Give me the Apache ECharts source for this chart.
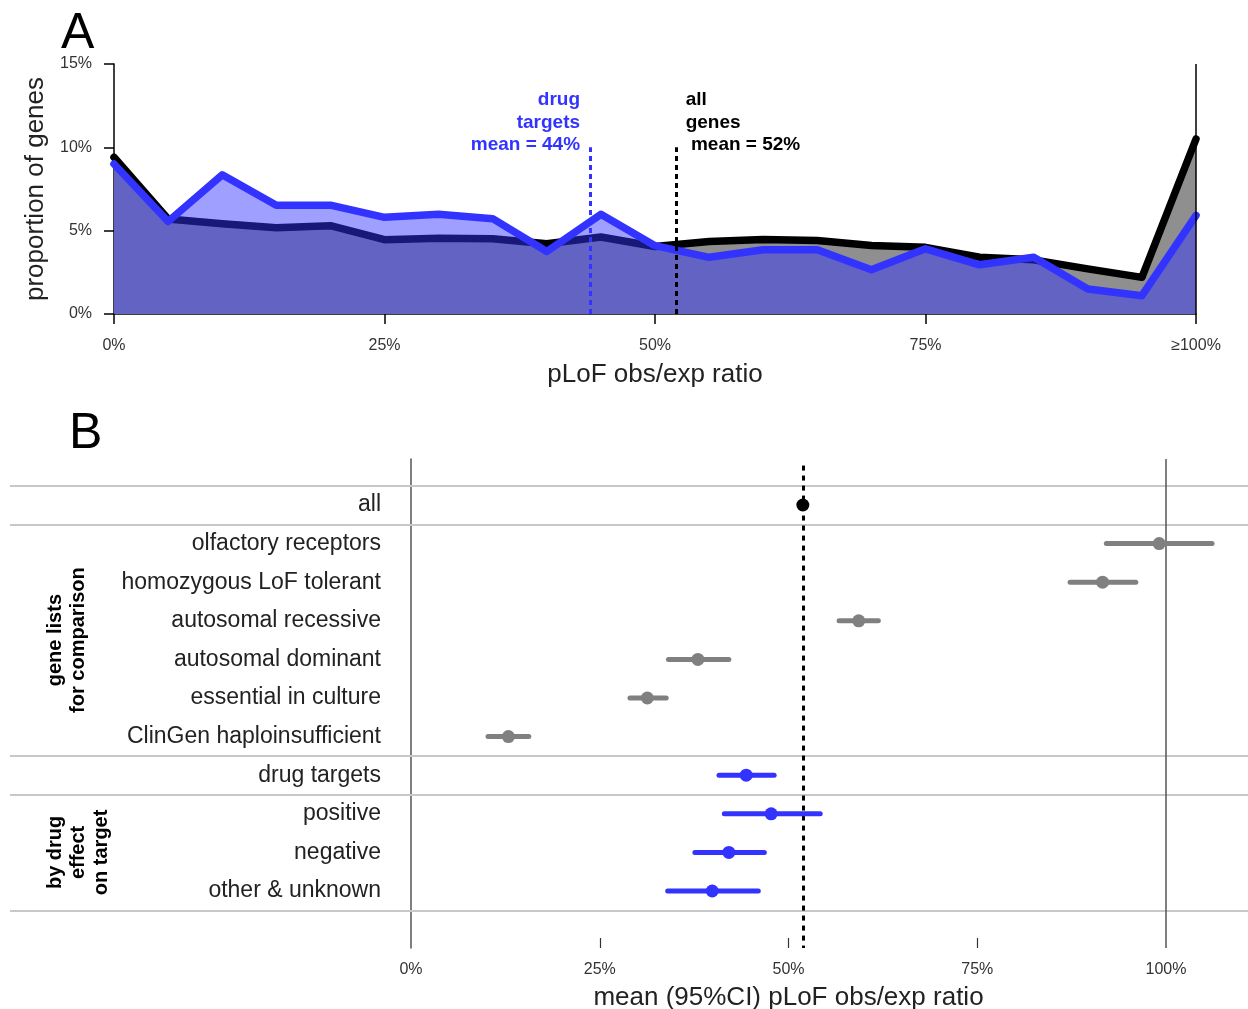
<!DOCTYPE html>
<html>
<head>
<meta charset="utf-8">
<script src="https://cdn.jsdelivr.net/npm/echarts@6/dist/echarts.min.js"></script>
<style>
html,body{margin:0;padding:0;background:#fff;}
#main{width:1248px;height:1009px;}
</style>
</head>
<body>
<div id="main"></div>
<script>
// ---------- Panel A data ----------
var ratioBins = [0,5,10,15,20,25,30,35,40,45,50,55,60,65,70,75,80,85,90,95,100];
var allGenesPct = [9.4,5.7,5.42,5.18,5.3,4.46,4.55,4.52,4.22,4.62,4.05,4.35,4.47,4.41,4.11,4.0,3.41,3.25,2.71,2.2,10.5];
var drugTargetsPct = [9.0,5.55,8.35,6.53,6.53,5.8,5.98,5.72,3.75,5.98,4.1,3.4,3.85,3.85,2.65,3.91,2.95,3.41,1.5,1.1,5.92];
var allGenesMean = 52;
var drugTargetsMean = 44;
var xTicksA = [0,25,50,75,100];
var yTicksA = [0,5,10,15];

// ---------- Panel B data ----------
var geneLists = ['all','olfactory receptors','homozygous LoF tolerant','autosomal recessive','autosomal dominant','essential in culture','ClinGen haploinsufficient','drug targets','positive','negative','other & unknown'];
var listGroups = ['all','comparison','comparison','comparison','comparison','comparison','comparison','drug','effect','effect','effect'];
var meanRatio = [51.9,99.1,91.6,59.3,38.0,31.3,12.9,44.4,47.7,42.1,39.9];
var ciLower = [51.6,92.1,87.3,56.7,34.1,29.0,10.2,40.8,41.5,37.6,34.0];
var ciUpper = [52.2,106.1,96.0,61.9,42.1,33.8,15.6,48.1,54.2,46.8,46.0];
var xTicksB = [0,25,50,75,100];

// ---------- styling ----------
var FONT = '"Liberation Sans", Arial, Helvetica, sans-serif';
var groupColor = {all:'#000000', comparison:'#808080', drug:'#3333ff', effect:'#3333ff'};
var rowColors = listGroups.map(function(g){return groupColor[g];});

// Panel B layout: 0% and 100% at fixed pixels; grid spans whole width for separators
var B_ZERO = 411, B_HUNDRED = 1166, B_LEFT = 10, B_RIGHT = 1248;
var pxPerUnit = (B_HUNDRED - B_ZERO) / 100;
var bMin = -(B_ZERO - B_LEFT) / pxPerUnit;
var bMax = (B_RIGHT - B_ZERO) / pxPerUnit;
var B_TOP = 459, B_BOTTOM = 948, ROW0 = 505, ROWSTEP = 38.6;
var yMinB = -(ROW0 - B_TOP) / ROWSTEP;
var yMaxB = (B_BOTTOM - ROW0) / ROWSTEP;

// separators at group boundaries
var separators = [-0.5];
for (var i = 1; i < listGroups.length; i++) {
  if (listGroups[i] !== listGroups[i-1]) separators.push(i - 0.5);
}
separators.push(listGroups.length - 0.5);

var forestData = geneLists.map(function(c, i){ return [meanRatio[i], ciLower[i], ciUpper[i], i]; });

var chart = echarts.init(document.getElementById('main'), null, {renderer:'canvas'});

var option = {
  animation: false,
  backgroundColor: '#ffffff',
  textStyle: {fontFamily: FONT},
  title: [
    {text:'A', left:61, top:9, padding:0, textStyle:{fontSize:50, fontWeight:'normal', color:'#000', fontFamily:FONT}},
    {text:'B', left:69, top:409, padding:0, textStyle:{fontSize:50, fontWeight:'normal', color:'#000', fontFamily:FONT}}
  ],
  grid: [
    {left:114, top:64, width:1082, height:250, outerBoundsMode:'none', containLabel:false},
    {left:B_LEFT, top:B_TOP, width:B_RIGHT-B_LEFT, height:B_BOTTOM-B_TOP, outerBoundsMode:'none', containLabel:false}
  ],
  xAxis: [
    {
      gridIndex:0, type:'value', min:0, max:100, interval:25,
      axisLine:{show:true, onZero:false, lineStyle:{color:'#000', width:1.5}},
      axisTick:{show:true, length:10, lineStyle:{color:'#000', width:1.5}},
      axisLabel:{margin:24, fontSize:16, color:'#333', fontFamily:FONT,
        formatter:function(v){ return v === 100 ? '\u2265100%' : v + '%'; }},
      splitLine:{show:false},
      name:'pLoF obs/exp ratio', nameLocation:'middle', nameGap:48,
      nameTextStyle:{fontSize:26, color:'#222', fontFamily:FONT}
    },
    {
      gridIndex:1, type:'value', min:bMin, max:bMax,
      axisLine:{show:false, onZero:false},
      axisTick:{show:true, inside:true, length:10, customValues:[25,50,75], lineStyle:{color:'#333', width:1.2}},
      axisLabel:{show:true, margin:14, fontSize:16, color:'#333', fontFamily:FONT, customValues:xTicksB,
        formatter:function(v){ return Math.round(v) + '%'; }},
      splitLine:{show:false}
    }
  ],
  yAxis: [
    {
      gridIndex:0, type:'value', min:0, max:15, interval:5,
      axisLine:{show:true, lineStyle:{color:'#000', width:1.5}},
      axisTick:{show:true, length:10, lineStyle:{color:'#000', width:1.5}},
      axisLabel:{margin:22, fontSize:16, color:'#333', fontFamily:FONT, formatter:'{value}%', padding:[3,0,0,0]},
      splitLine:{show:false},
      name:'proportion of genes', nameLocation:'middle', nameGap:60,
      nameTextStyle:{fontSize:26, color:'#222', fontFamily:FONT}
    },
    {
      gridIndex:1, type:'value', inverse:true, min:yMinB, max:yMaxB,
      position:'left', offset: -(B_ZERO - B_LEFT),
      axisLine:{show:true, onZero:false, lineStyle:{color:'#555', width:1.5}},
      axisTick:{show:false},
      axisLabel:{show:true, margin:30, fontSize:23, color:'#222', fontFamily:FONT, padding:[5,0,0,0],
        customValues: geneLists.map(function(c,i){return i;}),
        formatter:function(v){ var k = Math.round(v); return geneLists[k] || ''; }},
      splitLine:{show:false}
    }
  ],
  series: [
    {
      name:'all genes', type:'line', xAxisIndex:0, yAxisIndex:0,
      data: ratioBins.map(function(x,i){return [x, allGenesPct[i]];}),
      symbol:'none',
      lineStyle:{color:'#000', width:7.5, join:'round', cap:'round'},
      areaStyle:{color:'#8f8f8f', opacity:1},
      z:2
    },
    {
      name:'drug targets', type:'line', xAxisIndex:0, yAxisIndex:0,
      data: ratioBins.map(function(x,i){return [x, drugTargetsPct[i]];}),
      symbol:'none',
      lineStyle:{color:'#3333ff', width:7.5, join:'round', cap:'round'},
      areaStyle:{color:'rgba(51,51,255,0.47)', opacity:1},
      z:3,
      markLine:{
        silent:true, symbol:['none','none'], label:{show:false},
        data:[
          [{coord:[drugTargetsMean,0], lineStyle:{color:'#3333ff', type:[5,4], width:3}},{coord:[drugTargetsMean,10]}],
          [{coord:[allGenesMean,0], lineStyle:{color:'#000', type:[5,4], width:3}},{coord:[allGenesMean,10]}],
          {xAxis:100, lineStyle:{color:'#000', type:'solid', width:1.5}}
        ]
      }
    },
    {
      name:'forest', type:'custom', xAxisIndex:1, yAxisIndex:1,
      data: forestData,
      encode:{x:[0,1,2], y:3},
      renderItem:function(params, api){
        var row = api.value(3);
        var p0 = api.coord([api.value(1), row]);
        var p1 = api.coord([api.value(2), row]);
        var pm = api.coord([api.value(0), row]);
        var color = rowColors[params.dataIndex];
        return {type:'group', children:[
          {type:'line', shape:{x1:p0[0], y1:p0[1], x2:p1[0], y2:p1[1]}, style:{stroke:color, lineWidth:5, lineCap:'round'}},
          {type:'circle', shape:{cx:pm[0], cy:pm[1], r:6.5}, style:{fill:color}}
        ]};
      },
      z:5,
      markLine:{
        silent:true, symbol:['none','none'], label:{show:false}, z:1,
        data: separators.map(function(s){ return {yAxis:s, lineStyle:{color:'#c8c8c8', width:2, type:'solid'}}; })
          .concat([
            {xAxis:100, lineStyle:{color:'#555', width:1.5, type:'solid'}},
            [{coord:[allGenesMean, yMinB + 0.17], lineStyle:{color:'#000', width:3, type:[5,5]}}, {coord:[allGenesMean, yMaxB]}]
          ])
      }
    }
  ]
};
chart.setOption(option);

// ---------- annotations positioned through the axes ----------
var pDrug = chart.convertToPixel({gridIndex:0}, [drugTargetsMean, 10]);
var pAll = chart.convertToPixel({gridIndex:0}, [allGenesMean, 10]);
var pCompTop = chart.convertToPixel({gridIndex:1}, [0, 1]);
var pCompBot = chart.convertToPixel({gridIndex:1}, [0, 6]);
var pEffTop = chart.convertToPixel({gridIndex:1}, [0, 8]);
var pEffBot = chart.convertToPixel({gridIndex:1}, [0, 10]);
var pMid = chart.convertToPixel({gridIndex:1}, [50, 0]);

function txt(o){
  return {
    type:'text', x:o.x, y:o.y, rotation:o.rotation || 0, silent:true,
    style:{
      text:o.text, x:0, y:0, fill:o.fill || '#000',
      font:o.font, lineHeight:o.lineHeight,
      align:o.align, verticalAlign:o.va,
      textAlign:o.align, textVerticalAlign:o.va
    }
  };
}

chart.setOption({
  graphic:[
    txt({x:pDrug[0]-10, y:pDrug[1]+9, text:'drug\ntargets\nmean = 44%', fill:'#3333ff', font:'bold 19px ' + FONT, lineHeight:22.5, align:'right', va:'bottom'}),
    txt({x:pAll[0]+9, y:pAll[1]+9, text:'all\ngenes\n mean = 52%', fill:'#000', font:'bold 19px ' + FONT, lineHeight:22.5, align:'left', va:'bottom'}),
    txt({x:66.5, y:(pCompTop[1]+pCompBot[1])/2, rotation:Math.PI/2, text:'gene lists\nfor comparison', fill:'#000', font:'bold 20px ' + FONT, lineHeight:23, align:'center', va:'middle'}),
    txt({x:78, y:(pEffTop[1]+pEffBot[1])/2, rotation:Math.PI/2, text:'by drug\neffect\non target', fill:'#000', font:'bold 20px ' + FONT, lineHeight:23, align:'center', va:'middle'}),
    txt({x:pMid[0], y:998, text:'mean (95%CI) pLoF obs/exp ratio', fill:'#222', font:'26px ' + FONT, lineHeight:30, align:'center', va:'middle'})
  ]
});
</script>
</body>
</html>
